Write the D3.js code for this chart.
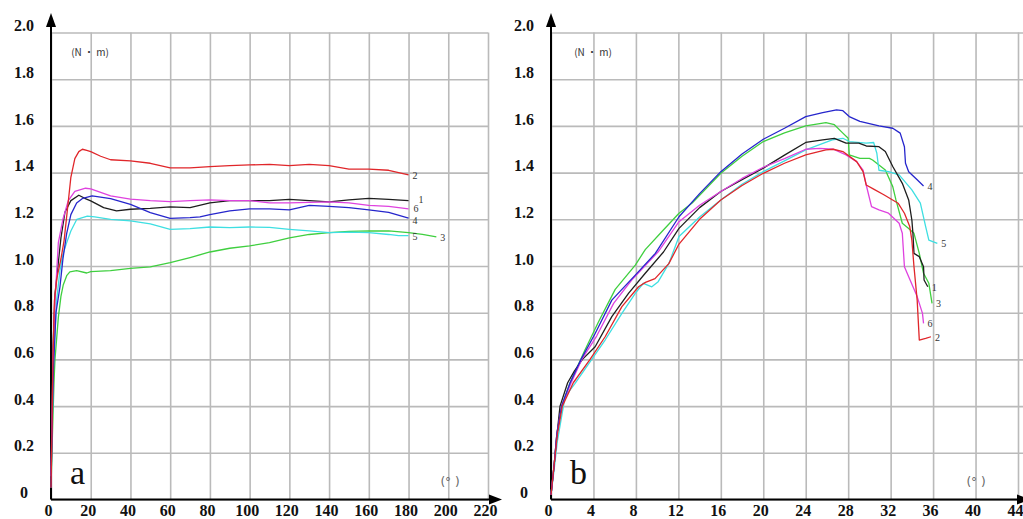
<!DOCTYPE html>
<html>
<head>
<meta charset="utf-8">
<script src="https://cdn.jsdelivr.net/npm/d3@7"></script>
<style>
  body { margin: 0; background: #fff; }
  svg { display: block; }
</style>
</head>
<body>
<svg width="1023" height="519"></svg>
<script>
// ticks
var yTicks = [0, 0.2, 0.4, 0.6, 0.8, 1.0, 1.2, 1.4, 1.6, 1.8, 2.0];
var yTickLabels = ["0", "0.2", "0.4", "0.6", "0.8", "1.0", "1.2", "1.4", "1.6", "1.8", "2.0"];
var xTicksA = [0, 20, 40, 60, 80, 100, 120, 140, 160, 180, 200, 220];
var xTicksB = [0, 4, 8, 12, 16, 20, 24, 28, 32, 36, 40, 44];

var seriesNames = ["1", "2", "3", "4", "5", "6"];
var seriesColors = ["#1e1e1e", "#e0262a", "#3fcf3f", "#2626cc", "#3edfe2", "#df42df"];

// panel a  (angle in degrees, torque N·m)
var a1 = [[0,0.05],[0.5,0.35],[1,0.65],[2,0.88],[3.5,1.0],[5,1.12],[7,1.23],[10,1.28],[14,1.303],[17,1.29],[20,1.279],[26.5,1.25],[33,1.236],[40,1.243],[50,1.247],[60,1.253],[70,1.25],[80,1.27],[90,1.28],[100,1.28],[110,1.28],[120,1.285],[130,1.28],[140,1.275],[150,1.283],[160,1.29],[170,1.285],[180,1.28]];
var a2 = [[0,0.05],[0.5,0.3],[1,0.6],[1.7,0.85],[3,0.95],[5,1.03],[6.6,1.11],[8.5,1.26],[10,1.38],[12,1.46],[14,1.49],[15.8,1.5],[18,1.495],[20,1.49],[25,1.47],[30,1.455],[40,1.45],[50,1.44],[60,1.42],[70,1.42],[80,1.426],[90,1.43],[100,1.433],[110,1.435],[120,1.43],[130,1.435],[140,1.43],[150,1.415],[160,1.415],[170,1.41],[180,1.39]];
var a3 = [[0,0.05],[0.8,0.3],[1.5,0.5],[2,0.6],[3.7,0.78],[5,0.87],[6.2,0.92],[8,0.96],[9.5,0.975],[12.9,0.98],[18,0.97],[20,0.976],[30,0.98],[40,0.99],[50,0.996],[60,1.014],[70,1.036],[80,1.06],[90,1.076],[100,1.086],[110,1.1],[120,1.12],[130,1.135],[140,1.143],[150,1.148],[160,1.15],[170,1.15],[180,1.143],[187,1.135],[194,1.125]];
var a4 = [[0,0.05],[0.5,0.3],[1.2,0.55],[2.5,0.8],[4.5,0.91],[6,1.03],[7.9,1.14],[10,1.22],[12.9,1.27],[16,1.29],[20.7,1.3],[30,1.289],[40,1.264],[50,1.229],[60,1.204],[70,1.207],[75,1.21],[80,1.22],[90,1.236],[100,1.245],[110,1.245],[120,1.24],[130,1.26],[140,1.255],[150,1.25],[160,1.24],[170,1.23],[180,1.205]];
var a5 = [[0,0.05],[0.6,0.3],[1.3,0.6],[2.8,0.85],[4.5,0.98],[6,1.05],[7.9,1.1],[10,1.15],[13,1.2],[18.3,1.214],[22,1.21],[30,1.2],[40,1.193],[50,1.18],[60,1.157],[70,1.16],[80,1.167],[90,1.164],[100,1.167],[110,1.165],[120,1.157],[130,1.15],[140,1.143],[150,1.145],[160,1.143],[170,1.135],[175,1.13],[180,1.13]];
var a6 = [[0,0.1],[0.5,0.35],[1,0.6],[2,0.85],[3.7,1.1],[6,1.2],[8.7,1.28],[12,1.32],[17.4,1.333],[20,1.33],[30,1.3],[40,1.286],[50,1.28],[60,1.276],[70,1.28],[80,1.283],[90,1.28],[100,1.28],[110,1.27],[120,1.27],[140,1.275],[150,1.27],[160,1.26],[170,1.255],[180,1.245]];

// panel b
var b1 = [[0,0.02],[0.3,0.15],[0.5,0.25],[0.85,0.4],[1.57,0.5],[2.2,0.55],[2.96,0.6],[4.16,0.654],[5.73,0.783],[7.3,0.883],[8.88,0.969],[10.6,1.06],[12.06,1.161],[14,1.25],[16,1.319],[18,1.37],[20,1.419],[22,1.475],[24,1.529],[25.6,1.54],[26.7,1.547],[27.8,1.526],[29,1.526],[29.7,1.514],[30.9,1.511],[31.5,1.49],[32.2,1.426],[33.1,1.354],[33.7,1.283],[34,1.197],[34.1,1.14],[34.2,1.054],[34.7,1.04],[35.1,0.997],[35.15,0.94],[35.5,0.911]];
var b2 = [[0,0.02],[0.3,0.15],[0.6,0.28],[1.07,0.4],[2.1,0.5],[3.68,0.6],[5.1,0.697],[6.68,0.826],[8.25,0.911],[8.9,0.93],[9.8,0.946],[11.1,1.01],[12.06,1.094],[14,1.2],[16,1.283],[18,1.345],[20,1.397],[22,1.44],[24,1.476],[25.9,1.497],[26.6,1.5],[27.5,1.49],[28.8,1.447],[29.4,1.404],[29.7,1.347],[30.4,1.329],[31.4,1.304],[32.7,1.269],[33.3,1.226],[33.8,1.169],[34,1.111],[34.2,0.997],[34.5,0.854],[34.7,0.683],[35.3,0.69],[35.8,0.697]];
var b3 = [[0,0.02],[0.3,0.15],[0.55,0.28],[1,0.4],[1.8,0.5],[3.2,0.64],[4.47,0.76],[6.05,0.9],[7.94,1.004],[8.88,1.07],[10.5,1.15],[12.06,1.226],[13.3,1.27],[16,1.397],[18,1.47],[20,1.533],[22,1.57],[24,1.6],[25.9,1.614],[26.7,1.605],[27.5,1.569],[28,1.547],[28.1,1.476],[29.1,1.461],[30,1.461],[30.3,1.454],[31.5,1.411],[32.2,1.34],[32.5,1.283],[33.1,1.183],[33.7,1.161],[34.2,1.14],[34.7,1.054],[35.1,0.969],[35.6,0.926],[35.9,0.84]];
var b4 = [[0,0.02],[0.3,0.15],[0.55,0.28],[1,0.4],[1.8,0.5],[2.83,0.6],[4.16,0.711],[5.73,0.854],[7.94,0.961],[9.83,1.054],[12.06,1.211],[14,1.31],[16,1.404],[18,1.48],[20,1.543],[22,1.59],[24,1.64],[25.6,1.657],[26.9,1.669],[27.5,1.665],[28.1,1.64],[29.1,1.619],[30.9,1.6],[32.2,1.59],[32.9,1.569],[33.3,1.511],[33.4,1.44],[33.7,1.404],[34.5,1.369],[35.1,1.343]];
var b5 = [[0,0.02],[0.3,0.13],[0.6,0.25],[1.17,0.4],[1.32,0.44],[2.27,0.497],[3.84,0.6],[5.1,0.683],[6.68,0.797],[7.94,0.883],[8.7,0.926],[9.5,0.911],[10.1,0.933],[11.1,1.01],[12.06,1.126],[14,1.21],[16,1.283],[18,1.35],[20,1.404],[22,1.45],[24,1.497],[26.5,1.54],[27.5,1.547],[28.1,1.533],[29.7,1.526],[30.4,1.529],[30.7,1.483],[30.9,1.41],[31.8,1.404],[32.8,1.39],[34,1.326],[34.8,1.269],[35.3,1.169],[35.6,1.111],[36.4,1.097]];
var b6 = [[0,0.02],[0.3,0.15],[0.55,0.28],[1,0.4],[1.9,0.5],[2.9,0.6],[4.3,0.7],[5.9,0.84],[7.6,0.94],[10.1,1.061],[12.06,1.19],[14,1.26],[16,1.319],[18,1.375],[20,1.423],[22,1.46],[24,1.5],[25.3,1.504],[26.6,1.5],[27.8,1.476],[28.8,1.447],[29.4,1.411],[29.7,1.347],[30.2,1.254],[30.9,1.24],[31.8,1.226],[32.8,1.183],[33.1,1.14],[33.3,0.997],[33.7,0.954],[34.5,0.869],[35,0.797],[35.1,0.754]];

var svg = d3.select("svg");

function drawPanel(opt) {
    var x = d3.scaleLinear().domain(opt.xDomain).range([opt.left, opt.right]);
    var y = d3.scaleLinear().domain([0, 2]).range([499.5, 32.5]);

    var g = svg.append("g");

    // grid + x labels
    var xAxis = g.append("g")
        .attr("transform", "translate(0," + y(0) + ")")
        .call(d3.axisBottom(x).tickValues(opt.xTicks).tickSize(-(y(0) - y(2))).tickPadding(5));
    xAxis.select(".domain").remove();
    xAxis.selectAll("line").attr("stroke", "#bababa").attr("stroke-width", 1.6);
    xAxis.selectAll("text")
        .attr("dx", -3)
        .style("font-family", "'Liberation Serif', serif")
        .style("font-weight", "bold")
        .style("font-size", "16px")
        .attr("fill", "#111");

    var yAxis = g.append("g")
        .attr("transform", "translate(" + x(0) + ",0)")
        .call(d3.axisLeft(y).tickValues(yTicks)
            .tickFormat(function (d, i) { return yTickLabels[i]; })
            .tickSize(-(opt.gridRight - x(0))));
    yAxis.select(".domain").remove();
    yAxis.selectAll("line").attr("stroke", "#bababa").attr("stroke-width", 1.6);
    yAxis.selectAll("text")
        .attr("x", -27)
        .attr("y", -7)
        .attr("text-anchor", "middle")
        .style("font-family", "'Liberation Serif', serif")
        .style("font-weight", "bold")
        .style("font-size", "16px")
        .attr("fill", "#111");

    // axes with arrows
    g.append("line")
        .attr("x1", x(0)).attr("x2", x(0))
        .attr("y1", y(0)).attr("y2", 24)
        .attr("stroke", "#000").attr("stroke-width", 2);
    g.append("path")
        .attr("d", "M" + (x(0) - 5) + ",27L" + x(0) + ",13L" + (x(0) + 5) + ",27Z")
        .attr("fill", "#000");
    g.append("line")
        .attr("x1", x(0)).attr("x2", opt.arrowX - 10)
        .attr("y1", y(0)).attr("y2", y(0))
        .attr("stroke", "#000").attr("stroke-width", 2);
    g.append("path")
        .attr("d", "M" + (opt.arrowX - 13) + "," + (y(0) - 5) + "L" + opt.arrowX + "," + y(0) + "L" + (opt.arrowX - 13) + "," + (y(0) + 5) + "Z")
        .attr("fill", "#000");

    // curves
    var line = d3.line().x(function (d) { return x(d[0]); }).y(function (d) { return y(d[1]); });
    var order = [2, 4, 0, 5, 3, 1];
    order.forEach(function (i) {
        g.append("path")
            .datum(opt.series[i])
            .attr("d", line)
            .attr("fill", "none")
            .attr("stroke", seriesColors[i])
            .attr("stroke-width", 1.3)
            .attr("stroke-linejoin", "round");
    });

    // end labels
    opt.series.forEach(function (s, i) {
        var last = s[s.length - 1];
        var nudge = opt.nudge[i] || [0, 0];
        g.append("text")
            .attr("x", x(last[0]) + 4 + nudge[0])
            .attr("y", y(last[1]) + 4 + nudge[1])
            .text(seriesNames[i])
            .style("font-family", "'Liberation Serif', serif")
            .style("font-size", "10px")
            .attr("fill", "#333");
    });

    // annotations
    g.append("text")
        .attr("x", opt.unitX).attr("y", 56)
        .attr("text-anchor", "middle")
        .text("(N · m)")
        .style("font-family", "'Noto Sans CJK SC', sans-serif")
        .style("font-size", "10px")
        .attr("fill", "#333");
    g.append("text")
        .attr("x", opt.degX).attr("y", 486)
        .attr("text-anchor", "middle")
        .text("(° )")
        .style("font-family", "'DejaVu Sans', sans-serif")
        .style("font-size", "12px")
        .attr("fill", "#666");
    g.append("text")
        .attr("x", x(0) + 19).attr("y", 484)
        .text(opt.letter)
        .style("font-family", "'Liberation Serif', serif")
        .style("font-size", "34px")
        .attr("fill", "#111");
}

drawPanel({
    xDomain: [0, 220], left: 51, right: 488, gridRight: 488, arrowX: 502,
    xTicks: xTicksA, series: [a1, a2, a3, a4, a5, a6],
    unitX: 90, degX: 450, letter: "a",
    nudge: { 0: [6, -2], 5: [1, -1], 3: [0, 2] }
});

drawPanel({
    xDomain: [0, 44], left: 551, right: 1018, gridRight: 1023, arrowX: 1030,
    xTicks: xTicksB, series: [b1, b2, b3, b4, b5, b6],
    unitX: 593, degX: 976, letter: "b",
    nudge: {}
});
</script>
</body>
</html>
